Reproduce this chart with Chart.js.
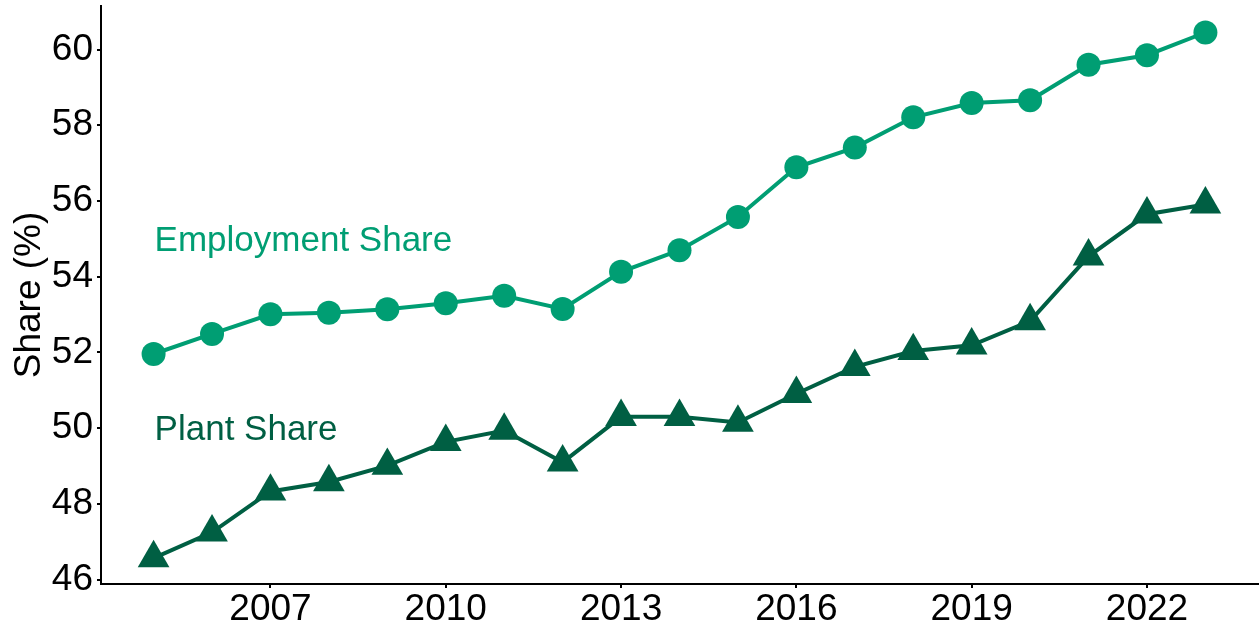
<!DOCTYPE html>
<html>
<head>
<meta charset="utf-8">
<script src="https://cdn.jsdelivr.net/npm/chart.js@4.4.1/dist/chart.umd.min.js"></script>
<style>
html,body{margin:0;padding:0;background:#fff;}
#wrap{width:1260px;height:627px;position:relative;}
</style>
</head>
<body>
<div id="wrap"><canvas id="c" width="1260" height="627"></canvas></div>
<script>
const years = [2005,2006,2007,2008,2009,2010,2011,2012,2013,2014,2015,2016,2017,2018,2019,2020,2021,2022,2023];
const employmentShare = [51.96,52.49,53.01,53.05,53.14,53.30,53.50,53.15,54.13,54.70,55.58,56.89,57.41,58.21,58.59,58.66,59.60,59.85,60.45];
const plantShare = [46.57,47.25,48.33,48.58,49.01,49.64,49.94,49.10,50.30,50.30,50.15,50.91,51.62,52.04,52.19,52.83,54.54,55.65,55.91];
const xTickLabels = [2007,2010,2013,2016,2019,2022];
const yTickLabels = [46,48,50,52,54,56,58,60];
const seriesLabels = [
  {text:'Employment Share', x:2005, y:55},
  {text:'Plant Share', x:2005, y:50}
];

const empColor = '#009E73';
const plantColor = '#005F43';
const FONT = '"Liberation Sans", Arial, Helvetica, sans-serif';

const labelPlugin = {
  id:'seriesLabels',
  afterDatasetsDraw(chart){
    const ctx = chart.ctx;
    const xs = chart.scales.x, ys = chart.scales.y;
    const colors = [empColor, plantColor];
    ctx.save();
    ctx.font = '35px ' + FONT;
    ctx.textAlign = 'left';
    ctx.textBaseline = 'alphabetic';
    seriesLabels.forEach((l,i)=>{
      ctx.fillStyle = colors[i];
      ctx.fillText(l.text, xs.getPixelForValue(l.x) + 1, ys.getPixelForValue(l.y) + 12);
    });
    ctx.restore();
  }
};

function zeroPad(scale){
  scale.paddingTop = 0; scale.paddingBottom = 0;
  scale.paddingLeft = 0; scale.paddingRight = 0;
}

new Chart(document.getElementById('c'), {
  type:'line',
  data:{
    datasets:[
      {
        label:'Employment Share',
        data: years.map((yr,i)=>({x:yr, y:employmentShare[i]})),
        borderColor: empColor,
        backgroundColor: empColor,
        borderWidth: 4,
        pointStyle:'circle',
        pointRadius: 12,
        pointHoverRadius: 12,
        pointBorderWidth: 0,
        tension: 0,
        clip: false
      },
      {
        label:'Plant Share',
        data: years.map((yr,i)=>({x:yr, y:plantShare[i]})),
        borderColor: plantColor,
        backgroundColor: plantColor,
        borderWidth: 4,
        pointStyle:'triangle',
        pointRadius: 18.3,
        pointHoverRadius: 18.3,
        pointBorderWidth: 0,
        tension: 0,
        clip: false
      }
    ]
  },
  options:{
    responsive:false,
    animation:false,
    devicePixelRatio:1,
    layout:{autoPadding:false, padding:{top:6,right:2,left:0,bottom:0}},
    plugins:{legend:{display:false},tooltip:{enabled:false}},
    scales:{
      x:{
        type:'linear',
        min:2004.1,
        max:2023.9,
        afterBuildTicks(scale){ scale.ticks = xTickLabels.map(v=>({value:v})); },
        afterFit(scale){ scale.height = 43; zeroPad(scale); },
        ticks:{
          font:{family:FONT,size:37},
          color:'#000',
          padding:0,
          maxRotation:0,
          autoSkip:false,
          callback:(v)=>String(v)
        },
        grid:{display:true,drawOnChartArea:false,drawTicks:true,tickLength:4,color:'#000',lineWidth:2},
        border:{display:true,color:'#000',width:2}
      },
      y:{
        type:'linear',
        min:45.886,
        max:61.15,
        afterBuildTicks(scale){ scale.ticks = yTickLabels.map(v=>({value:v})); },
        afterFit(scale){ scale.width = 101; zeroPad(scale); },
        ticks:{
          font:{family:FONT,size:37},
          color:'#000',
          padding:4,
          autoSkip:false,
          callback:(v)=>String(v)
        },
        title:{
          display:true,
          text:'Share (%)',
          font:{family:FONT,size:37},
          color:'#000',
          padding:{top:8,bottom:0}
        },
        grid:{display:true,drawOnChartArea:false,drawTicks:true,tickLength:4,color:'#000',lineWidth:2},
        border:{display:true,color:'#000',width:2}
      }
    }
  },
  plugins:[labelPlugin]
});
</script>
</body>
</html>
